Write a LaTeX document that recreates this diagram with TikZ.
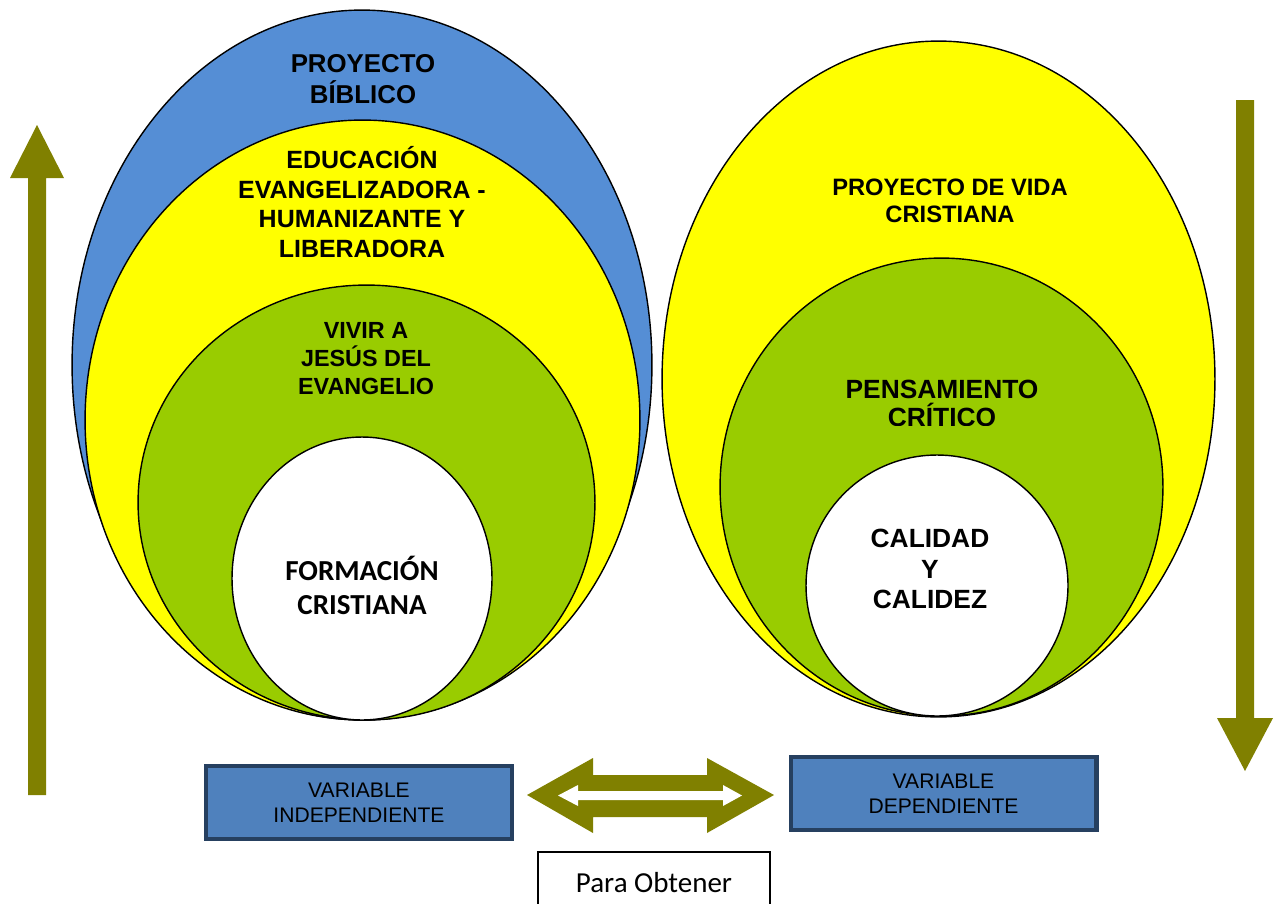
\documentclass[tikz,border=0pt]{standalone}
\usepackage{fontspec}
\setmainfont{Liberation Sans}
\newfontfamily\calibri{Carlito}
\usetikzlibrary{shapes.geometric}
\definecolor{bblue}{RGB}{85,142,213}
\definecolor{yel}{RGB}{255,255,0}
\definecolor{grn}{RGB}{153,204,0}
\definecolor{oli}{RGB}{128,128,0}
\definecolor{boxfill}{RGB}{79,129,189}
\definecolor{boxedge}{RGB}{38,64,96}
\begin{document}
\begin{tikzpicture}[x=0.02cm,y=-0.02cm,
  ell/.style={ellipse, draw=black, line width=0.8pt, inner sep=0pt},
  lbl/.style={align=center, inner sep=0pt, font=\bfseries\fontsize{#1}{1.18*#1}\selectfont},
  varbox/.style={draw=boxedge, fill=boxfill, line width=2.3pt, minimum width=6.12cm, minimum height=1.46cm, align=center, inner sep=0pt, font=\fontsize{12}{14.2}\selectfont},
  olive arrow/.style={fill=oli}
]
\clip (0,0) rectangle (1281,903);
\fill[white] (0,0) rectangle (1281,903);

% left nest of ellipses
\node[ell, fill=bblue, minimum width=11.6cm, minimum height=14.2cm] (lblue) at (362,365) {};
\node[ell, fill=yel, minimum width=11.1cm, minimum height=12cm] (lyel) at (362.5,420) {};
\node[ell, fill=grn, minimum width=9.14cm, minimum height=8.7cm] (lgrn) at (366.5,502.5) {};
\node[ell, fill=white, minimum width=5.2cm, minimum height=5.66cm] (lwht) at (362,578.5) {};

% right nest of ellipses
\node[ell, fill=yel, minimum width=11.06cm, minimum height=13.52cm] (ryel) at (938.5,379) {};
\node[ell, fill=grn, minimum width=8.86cm, minimum height=9.16cm] (rgrn) at (941.5,487) {};
\node[ell, fill=white, minimum width=5.24cm, minimum height=5.22cm] (rwht) at (937,585.5) {};

% texts
\node[align=center, inner sep=0pt, font=\bfseries\fontsize{14.7}{17.6}\selectfont] (tbib) at (363,79.5) {PROYECTO\\BÍBLICO};
\node[align=center, inner sep=0pt, font=\bfseries\fontsize{14.2}{17}\selectfont] (tedu) at (362,202) {EDUCACIÓN\\EVANGELIZADORA -\\HUMANIZANTE Y\\LIBERADORA};
\node[align=center, inner sep=0pt, font=\bfseries\fontsize{13.3}{15.9}\selectfont] (tviv) at (366,359) {VIVIR A\\JESÚS DEL\\EVANGELIO};
\node[align=center, inner sep=0pt, font=\calibri\bfseries\fontsize{16.5}{19.8}\selectfont] (tfor) at (362,585.5) {FORMACIÓN\\CRISTIANA};
\node[align=center, inner sep=0pt, font=\bfseries\fontsize{13.5}{15.3}\selectfont] (tpvc) at (950,200.5) {PROYECTO DE VIDA\\CRISTIANA};
\begin{scope}
\clip (700,360) rectangle (1180,425);
\node[align=center, inner sep=0pt, font=\bfseries\fontsize{15}{16.4}\selectfont] (tpen) at (942,403.5) {PENSAMIENTO\\CRÍTICO};
\end{scope}
\node[align=center, inner sep=0pt, font=\bfseries\fontsize{15}{17.5}\selectfont] (tcal) at (930,569) {CALIDAD\\Y\\CALIDEZ};

% vertical arrows
\fill[olive arrow] (28,795) -- (28,178) -- (10,178) -- (37,125) -- (64,178) -- (46,178) -- (46,795) -- cycle;
\fill[olive arrow] (1236,100) -- (1236,718) -- (1217,718) -- (1245,771) -- (1273,718) -- (1254,718) -- (1254,100) -- cycle;

% variable boxes
\node[varbox] (vi) at (359,802.5) {VARIABLE\\INDEPENDIENTE};
\node[varbox] (vd) at (943.5,793.5) {VARIABLE\\DEPENDIENTE};

% double arrow between them
\fill[olive arrow] (527,795) -- (593,758) -- (593,775) -- (707,775) -- (707,758) -- (774,795) -- (707,833) -- (707,817) -- (593,817) -- (593,833) -- cycle;
\fill[white] (558,795.5) -- (578,785) -- (578,791) -- (723,791) -- (723,785) -- (742,795.5) -- (723,806) -- (723,800) -- (578,800) -- (578,806) -- cycle;

% Para Obtener
\node[draw=black, line width=0.7pt, minimum width=4.64cm, minimum height=1.24cm, inner sep=0pt, font=\calibri\fontsize{16.5}{19}\selectfont] (para) at (654,883) {Para Obtener};
\end{tikzpicture}
\end{document}
